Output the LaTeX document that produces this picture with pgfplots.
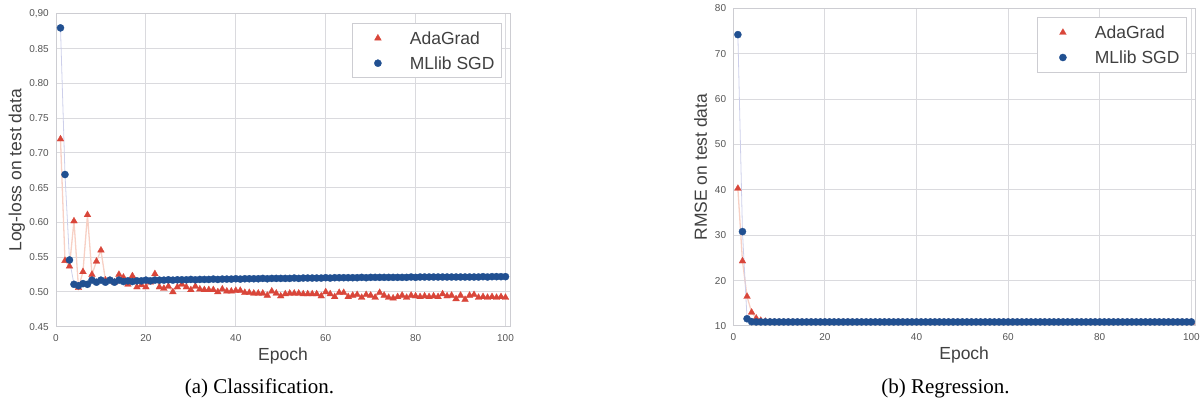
\documentclass[border=0pt]{standalone}
\usepackage{fontspec}
\setmainfont{Liberation Sans}
\newfontfamily\capfont{Liberation Serif}
\usepackage{pgfplots}
\usepackage{pgfplotstable}
\pgfplotsset{compat=1.18}

\definecolor{adared}{RGB}{217,70,58}
\definecolor{mlblue}{RGB}{33,80,145}
\definecolor{adaline}{RGB}{247,208,196}
\definecolor{mlline}{RGB}{205,207,234}
\definecolor{gridgray}{RGB}{218,218,222}
\definecolor{framegray}{RGB}{205,205,210}
\definecolor{ticktext}{RGB}{85,85,85}
\definecolor{labeltext}{RGB}{64,64,64}

\pgfplotstableread{
e ada ml
1 0.720 0.880
2 0.545 0.669
3 0.537 0.546
4 0.602 0.511
5 0.506 0.509
6 0.529 0.512
7 0.611 0.511
8 0.525 0.517
9 0.544 0.514
10 0.560 0.517
11 0.517 0.514
12 0.516 0.517
13 0.514 0.514
14 0.525 0.517
15 0.521 0.515
16 0.511 0.516
17 0.523 0.515
18 0.507 0.516
19 0.510 0.516
20 0.507 0.517
21 0.514 0.516
22 0.526 0.517
23 0.507 0.517
24 0.505 0.517
25 0.508 0.5175
26 0.500 0.517
27 0.507 0.5175
28 0.511 0.5175
29 0.507 0.5175
30 0.503 0.518
31 0.508 0.5175
32 0.504 0.518
33 0.503 0.518
34 0.503 0.518
35 0.503 0.5185
36 0.500 0.518
37 0.504 0.5185
38 0.501 0.5185
39 0.501 0.5185
40 0.502 0.519
41 0.502 0.5185
42 0.499 0.519
43 0.499 0.519
44 0.498 0.519
45 0.498 0.519
46 0.498 0.5195
47 0.495 0.519
48 0.501 0.5195
49 0.498 0.5195
50 0.494 0.5195
51 0.497 0.5195
52 0.498 0.5195
53 0.498 0.520
54 0.498 0.5195
55 0.497 0.520
56 0.497 0.520
57 0.497 0.520
58 0.497 0.520
59 0.494 0.520
60 0.500 0.5205
61 0.497 0.520
62 0.493 0.5205
63 0.499 0.5205
64 0.499 0.5205
65 0.493 0.5205
66 0.495 0.5205
67 0.496 0.5205
68 0.492 0.521
69 0.496 0.5205
70 0.495 0.521
71 0.492 0.521
72 0.499 0.521
73 0.495 0.521
74 0.492 0.521
75 0.491 0.521
76 0.493 0.521
77 0.495 0.521
78 0.492 0.521
79 0.495 0.5215
80 0.494 0.521
81 0.493 0.5215
82 0.494 0.5215
83 0.493 0.5215
84 0.494 0.5215
85 0.493 0.5215
86 0.497 0.5215
87 0.494 0.5215
88 0.495 0.5215
89 0.490 0.5215
90 0.495 0.5215
91 0.489 0.5215
92 0.495 0.5215
93 0.496 0.5215
94 0.492 0.5215
95 0.493 0.522
96 0.492 0.5215
97 0.493 0.522
98 0.492 0.522
99 0.493 0.522
100 0.492 0.522
}\cls

\pgfplotstableread{
e ada ml
1 40.3 74.2
2 24.3 30.8
3 16.5 11.6
4 13.0 10.95
5 11.7 10.9
6 11.2 10.9
7 11.0 10.9
8 10.9 10.9
9 10.8 10.9
10 10.8 10.9
11 10.8 10.9
12 10.8 10.9
13 10.8 10.9
14 10.8 10.9
15 10.8 10.9
16 10.8 10.9
17 10.8 10.9
18 10.8 10.9
19 10.8 10.9
20 10.8 10.9
21 10.8 10.9
22 10.8 10.9
23 10.8 10.9
24 10.8 10.9
25 10.8 10.9
26 10.8 10.9
27 10.8 10.9
28 10.8 10.9
29 10.8 10.9
30 10.8 10.9
31 10.8 10.9
32 10.8 10.9
33 10.8 10.9
34 10.8 10.9
35 10.8 10.9
36 10.8 10.9
37 10.8 10.9
38 10.8 10.9
39 10.8 10.9
40 10.8 10.9
41 10.8 10.9
42 10.8 10.9
43 10.8 10.9
44 10.8 10.9
45 10.8 10.9
46 10.8 10.9
47 10.8 10.9
48 10.8 10.9
49 10.8 10.9
50 10.8 10.9
51 10.8 10.9
52 10.8 10.9
53 10.8 10.9
54 10.8 10.9
55 10.8 10.9
56 10.8 10.9
57 10.8 10.9
58 10.8 10.9
59 10.8 10.9
60 10.8 10.9
61 10.8 10.9
62 10.8 10.9
63 10.8 10.9
64 10.8 10.9
65 10.8 10.9
66 10.8 10.9
67 10.8 10.9
68 10.8 10.9
69 10.8 10.9
70 10.8 10.9
71 10.8 10.9
72 10.8 10.9
73 10.8 10.9
74 10.8 10.9
75 10.8 10.9
76 10.8 10.9
77 10.8 10.9
78 10.8 10.9
79 10.8 10.9
80 10.8 10.9
81 10.8 10.9
82 10.8 10.9
83 10.8 10.9
84 10.8 10.9
85 10.8 10.9
86 10.8 10.9
87 10.8 10.9
88 10.8 10.9
89 10.8 10.9
90 10.8 10.9
91 10.8 10.9
92 10.8 10.9
93 10.8 10.9
94 10.8 10.9
95 10.8 10.9
96 10.8 10.9
97 10.8 10.9
98 10.8 10.9
99 10.8 10.9
100 10.8 10.9
}\reg

\pgfplotsset{
  mystyle/.style={
    scale only axis,
    anchor=south west,
    xmin=0,
    xtick={0,20,40,60,80,100},
    grid=major,
    major grid style={gridgray, line width=1pt},
    axis line style={framegray, line width=1pt},
    major tick length=0pt,
    tick label style={font=\fontsize{10}{12}\selectfont, text=ticktext, inner sep=0pt},
    xticklabel style={anchor=north, yshift=-7.3pt},
    yticklabel style={anchor=east, xshift=-7pt},
    /pgf/number format/assume math mode=true,
    label style={font=\fontsize{17.5}{21}\selectfont, text=labeltext},
    xlabel={Epoch},
    legend cell align=left,
    legend style={at={(1,1)}, anchor=north east, xshift=-8pt, yshift=-9pt,
      draw=framegray, fill=white, line width=1pt,
      inner xsep=7pt, inner ysep=8.4pt, row sep=12.4pt, column sep=14pt,
      nodes={inner sep=0pt, text height=12.6pt, text depth=0pt,
        font=\fontsize{17.5}{21}\selectfont, text=labeltext}},
    legend image code/.code={\path[draw=none,fill=none] (0pt,0pt) rectangle (36pt,0pt);
      \draw[#1] plot coordinates {(18pt,0pt)};},
  }
}

\begin{document}
\begin{tikzpicture}[x=1pt,y=1pt]
\useasboundingbox (0,0) rectangle (1201,401);

\begin{axis}[mystyle,
  at={(56pt,74.3pt)}, width=454pt, height=312.7pt,
  xmax=101, ymin=0.45, ymax=0.90,
  ytick={0.45,0.50,0.55,0.60,0.65,0.70,0.75,0.80,0.85,0.90},
  yticklabels={0.45,0.50,0.55,0.60,0.65,0.70,0.75,0.80,0.85,{0,90}},
  ylabel={Log-loss on test data},
  xlabel style={at={(axis description cs:0.5,-0.1065)}, anchor=base},
  ylabel style={at={(axis description cs:-0.076,0.5)}, anchor=base},
]
\addplot[adaline, line width=1.3pt, forget plot] table[x=e,y=ada] {\cls};
\addplot[only marks, mark=triangle*, mark size=3.9pt, color=adared, mark options={line width=0.3pt}] table[x=e,y=ada] {\cls};
\addlegendentry{AdaGrad}
\addplot[mlline, line width=0.8pt, forget plot] table[x=e,y=ml] {\cls};
\addplot[only marks, mark=*, mark size=3.6pt, color=mlblue, mark options={line width=0.3pt}] table[x=e,y=ml] {\cls};
\addlegendentry{MLlib SGD}
\end{axis}

\begin{axis}[mystyle,
  at={(733.3pt,75pt)}, width=461.7pt, height=317.7pt,
  xmax=100.8, ymin=10, ymax=80,
  ytick={10,20,30,40,50,60,70,80},
  ylabel={RMSE on test data},
  xlabel style={at={(axis description cs:0.5,-0.107)}, anchor=base},
  ylabel style={at={(axis description cs:-0.057,0.5)}, anchor=base},
]
\addplot[adaline, line width=1.3pt, forget plot] table[x=e,y=ada] {\reg};
\addplot[only marks, mark=triangle*, mark size=3.9pt, color=adared, mark options={line width=0.3pt}] table[x=e,y=ada] {\reg};
\addlegendentry{AdaGrad}
\addplot[mlline, line width=0.8pt, forget plot] table[x=e,y=ml] {\reg};
\addplot[only marks, mark=*, mark size=3.6pt, color=mlblue, mark options={line width=0.3pt}] table[x=e,y=ml] {\reg};
\addlegendentry{MLlib SGD}
\end{axis}

\node[anchor=base, font=\capfont\fontsize{21}{25}\selectfont, text=black] at (259.5,7.5) {(a) Classification.};
\node[anchor=base, font=\capfont\fontsize{21}{25}\selectfont, text=black] at (945.5,7.5) {(b) Regression.};
\end{tikzpicture}
\end{document}
